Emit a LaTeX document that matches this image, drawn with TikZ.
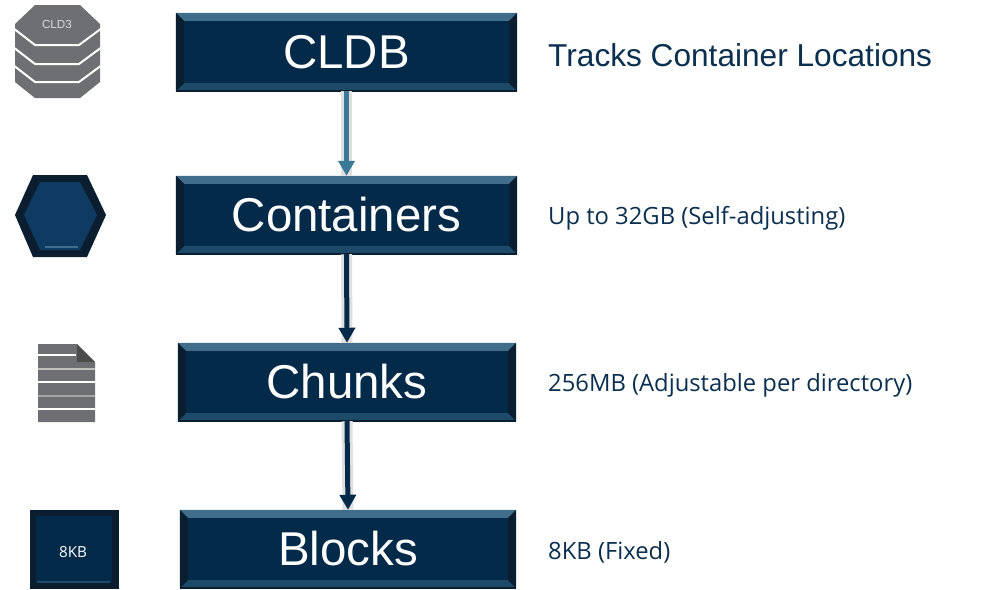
\documentclass[tikz,border=0pt]{standalone}
\usepackage{fontspec}
\setmainfont{Liberation Sans}
\newfontfamily\opensans{Open Sans}
\usetikzlibrary{arrows.meta}
\definecolor{navy}{HTML}{042A4A}
\definecolor{navydark}{HTML}{0A1E30}
\definecolor{bevellight}{HTML}{3F6D8A}
\definecolor{bevelmid}{HTML}{1C4A68}
\definecolor{teal}{HTML}{3A7A96}
\definecolor{iconblue}{HTML}{0F3A62}
\definecolor{icongray}{HTML}{6D6F72}
\definecolor{inktext}{HTML}{0B2F4F}
\def\px{0.03cm}
\tikzset{
  layerbox/.style={fill=navy,minimum height=78*\px,inner sep=0pt,text=white,font=\fontsize{40.5}{44}\selectfont},
  sizetext/.style={anchor=west,inner sep=0pt,text=inktext,font=\opensans\fontsize{20.3}{24}\selectfont},
  linkshadow/.style={draw=black!12,line width=11*\px},
  linkarrow/.style={->,line width=5*\px},
}
\begin{document}
\begin{tikzpicture}[x=\px,y=-\px,line join=round,>={Triangle[width=16*\px,length=15*\px]}]
\useasboundingbox (0,0) rectangle (984,589);
\node[layerbox,minimum width=341*\px] (cldb) at (346.5,52) {CLDB};
\node[layerbox,minimum width=341*\px] (containers) at (346.5,215) {Containers};
\node[layerbox,minimum width=338*\px] (chunks) at (347,382) {Chunks};
\node[layerbox,minimum width=336*\px] (blocks) at (348,549) {Blocks};
\foreach \n in {cldb,containers,chunks,blocks} {
  \fill[bevellight] (\n.north west)--(\n.north east)--([shift={(-8,8)}]\n.north east)--([shift={(8,8)}]\n.north west)--cycle;
  \fill[bevelmid] (\n.south west)--(\n.south east)--([shift={(-8,-8)}]\n.south east)--([shift={(8,-8)}]\n.south west)--cycle;
  \fill[navydark] (\n.north west)--(\n.south west)--([shift={(8,-8)}]\n.south west)--([shift={(8,8)}]\n.north west)--cycle;
  \fill[navydark] (\n.north east)--(\n.south east)--([shift={(-8,-8)}]\n.south east)--([shift={(-8,8)}]\n.north east)--cycle;
  \draw[navydark,line width=1.5*\px] (\n.south west)--(\n.south east);
}
\foreach \a/\b/\c in {cldb/containers/teal,containers/chunks/navy,chunks/blocks/navy} {
  \draw[linkshadow] (\a.south)--(\b.north);
  \draw[linkarrow,draw=\c,fill=\c] (\a.south)--(\b.north);
}
\node[sizetext,font=\fontsize{27}{30}\selectfont] (cldbtext) at (548,55) {Tracks Container Locations};
\node[sizetext] (containerstext) at (548,218) {Up to 32GB (Self-adjusting)};
\node[sizetext] (chunkstext) at (548,385) {256MB (Adjustable per directory)};
\node[sizetext] (blockstext) at (548,552) {8KB (Fixed)};
\fill[icongray] (35,5)--(80,5)--(100,24)--(100,82)--(80,98)--(35,98)--(15,82)--(15,24)--cycle;
\foreach \y in {0,19,37} \draw[white,line width=2*\px] (13,28+\y)--(35,45+\y)--(79,45+\y)--(102,28+\y);
\node[text=black!15,inner sep=0pt,font=\fontsize{10}{12}\selectfont] (cldicon) at (57,24) {CLD3};
\fill[navydark] (33,175)--(87,175)--(106,215)--(87,257)--(33,257)--(15,215)--cycle;
\fill[iconblue] (40,182)--(80,182)--(97,215)--(80,250)--(40,250)--(24,215)--cycle;
\draw[bevellight,line width=1.5*\px] (45,247)--(78,247);
\fill[icongray] (38,344)--(77,344)--(95,362)--(95,422)--(38,422)--cycle;
\fill[black!70] (77,344)--(95,362)--(77,362)--cycle;
\draw[white,line width=1.5*\px] (38,355)--(76,355);
\foreach \y/\c in {369/black!25,382/white,396/black!35,409/white} \draw[\c,line width=1.5*\px] (38,\y)--(95,\y);
\fill[navydark] (30,510) rectangle (119,589);
\fill[navy] (36,516) rectangle (112,582);
\draw[bevelmid,line width=2*\px] (37,582)--(110,582);
\node[text=white,inner sep=0pt,font=\opensans\fontsize{13}{15}\selectfont] (eightkb) at (73,552) {8KB};
\end{tikzpicture}
\end{document}
